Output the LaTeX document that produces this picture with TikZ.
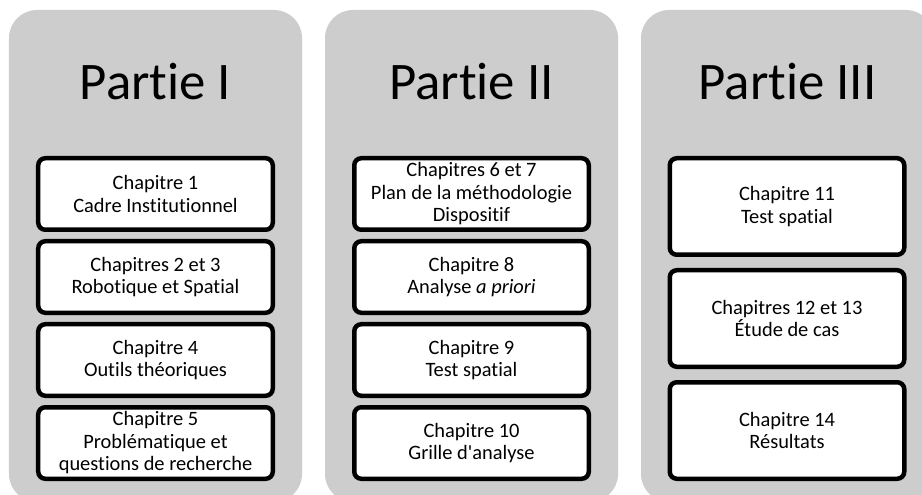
\documentclass[tikz,border=0pt]{standalone}
\usepackage{fontspec}
\setmainfont{Carlito}[RawFeature={-liga}]
\definecolor{panelgrey}{RGB}{205,205,205}
\tikzset{
  panel/.style={draw=none, fill=panelgrey, rounded corners=28bp, minimum width=293bp, minimum height=492bp, inner sep=0pt},
  parttitle/.style={anchor=base, inner sep=0pt, font=\fontsize{53}{60}\selectfont},
  chapbox/.style={draw=black, line width=4.5bp, fill=white, rounded corners=7bp, minimum width=234.5bp, align=center, inner sep=0pt, font=\fontsize{20.5}{22.6}\selectfont},
  shortbox/.style={chapbox, minimum height=71.5bp},
  tallbox/.style={chapbox, minimum height=96.5bp},
}
\begin{document}
\begin{tikzpicture}[x=1bp,y=-1bp]
\useasboundingbox (0,0) rectangle (922,495);
\clip (0,0) rectangle (922,495);
% panels
\node[panel] (P1) at (155.5,256) {};
\node[panel] (P2) at (471.5,256) {};
\node[panel] (P3) at (787.5,256) {};
% titles
\node[parttitle] (T1) at (155.5,99.3) {Partie I};
\node[parttitle] (T2) at (471.5,99.3) {Partie II};
\node[parttitle] (T3) at (787.5,99.3) {Partie III};
% Partie I
\node[shortbox] (c1) at (155.5,194) {Chapitre 1\\Cadre Institutionnel};
\node[shortbox] (c2) at (155.5,277) {Chapitres 2 et 3\\Robotique et Spatial};
\node[shortbox] (c4) at (155.5,360) {Chapitre 4\\Outils théoriques};
\node[shortbox] (c5) at (155.5,443) {Chapitre 5\\Problématique et\\questions de recherche};
% Partie II
\node[shortbox] (c6) at (471.5,194) {Chapitres 6 et 7\\Plan de la méthodologie\\Dispositif};
\node[shortbox] (c8) at (471.5,277) {Chapitre 8\\Analyse \textit{a priori}};
\node[shortbox] (c9) at (471.5,360) {Chapitre 9\\Test spatial};
\node[shortbox] (c10) at (471.5,443) {Chapitre 10\\Grille d\textquotesingle analyse};
% Partie III
\node[tallbox] (c11) at (787,206.5) {Chapitre 11\\Test spatial};
\node[tallbox] (c12) at (787,318.5) {Chapitres 12 et 13\\Étude de cas};
\node[tallbox] (c14) at (787,430.5) {Chapitre 14\\Résultats};
\end{tikzpicture}
\end{document}
